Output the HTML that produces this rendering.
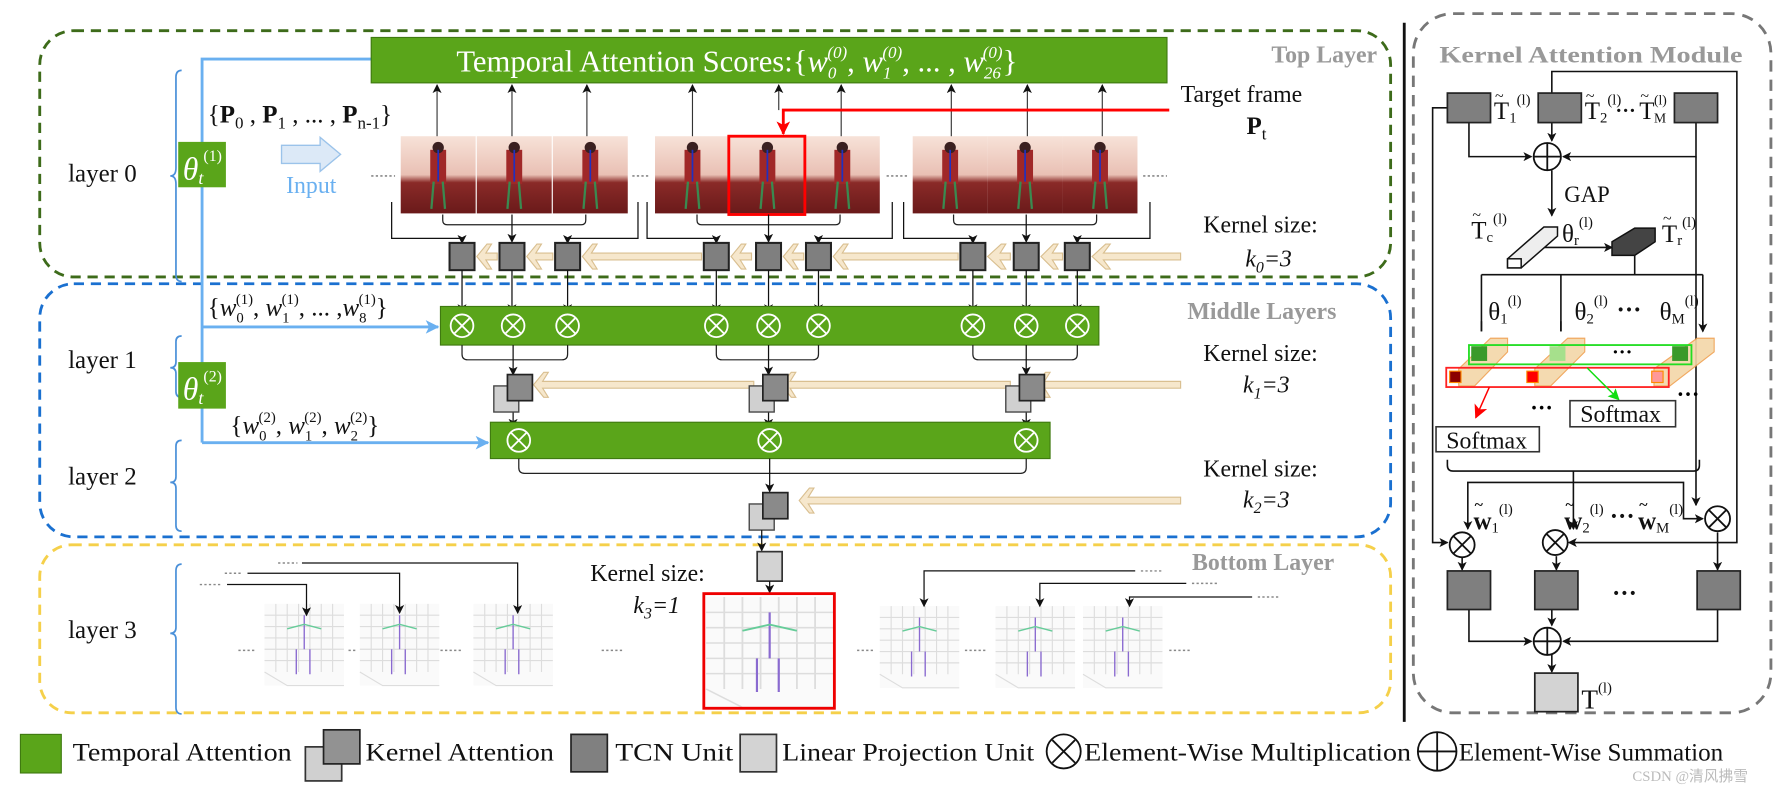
<!DOCTYPE html>
<html><head><meta charset="utf-8"><style>
html,body{margin:0;padding:0;background:#fff;width:1780px;height:790px;overflow:hidden}
svg{display:block}
text{font-family:"Liberation Serif",serif}
</style></head><body>
<svg width="1780" height="790" viewBox="0 0 1568 696" preserveAspectRatio="none" xmlns="http://www.w3.org/2000/svg">
<defs>
<marker id="ah" markerWidth="8" markerHeight="8" refX="7" refY="4" orient="auto" markerUnits="userSpaceOnUse"><path d="M0,0 L8,4 L0,8 L2,4 z" fill="#111"/></marker>
<marker id="ahb" markerWidth="12" markerHeight="12" refX="11" refY="6" orient="auto" markerUnits="userSpaceOnUse"><path d="M0,0 L12,6 L0,12 L3,6 z" fill="#6ab0f0"/></marker>
<marker id="ahr" markerWidth="12" markerHeight="12" refX="11" refY="6" orient="auto" markerUnits="userSpaceOnUse"><path d="M0,0 L12,6 L0,12 L3,6 z" fill="#f00"/></marker>
<marker id="ahg" markerWidth="10" markerHeight="10" refX="9" refY="5" orient="auto" markerUnits="userSpaceOnUse"><path d="M0,0 L10,5 L0,10 L2,5 z" fill="#1d1"/></marker>
<linearGradient id="fg" x1="0" y1="0" x2="0" y2="1">
<stop offset="0" stop-color="#f7e2d8"/><stop offset="0.5" stop-color="#e9c0b4"/><stop offset="0.6" stop-color="#8a2a28"/><stop offset="1" stop-color="#6a1a1a"/></linearGradient>
<g id="frame"><rect width="66" height="68" fill="url(#fg)"/><rect x="26" y="12" width="14" height="30" fill="#a02828"/><circle cx="33" cy="10" r="5" fill="#3a2020"/><path d="M29,40 L27,64 M37,40 L39,64" stroke="#3a8a50" stroke-width="2"/><path d="M33,12 V40" stroke="#2030c0" stroke-width="1.5"/></g>
<g id="plot"><rect width="70" height="72" fill="#fafafa"/><path d="M0,10H70M0,20H70M0,30H70M0,40H70M0,50H70M10,0V60M20,0V60M30,0V60M40,0V60M50,0V60M60,0V60M0,60L20,72H70" stroke="#ddd" stroke-width="1" fill="none"/><path d="M35,10V40M28,40V62M40,40V62" stroke="#8a6ad0" stroke-width="1.2"/><path d="M20,22L35,18L50,22" stroke="#6c9" stroke-width="1.2" fill="none"/></g>
<g id="tcn"><rect width="22" height="24" fill="#7f7f7f" stroke="#222" stroke-width="1.8"/></g>
<g id="ka"><rect x="-12" y="10" width="22" height="23" fill="#d0d0d0" stroke="#444" stroke-width="1.2"/><rect width="22" height="23" fill="#8a8a8a" stroke="#222" stroke-width="1.5"/></g>
<g id="mulw"><circle r="10" fill="none" stroke="#fff" stroke-width="1.6"/><path d="M-7,-7L7,7M7,-7L-7,7" stroke="#fff" stroke-width="1.6"/></g>
<g id="mulk"><circle r="11" fill="#fff" stroke="#111" stroke-width="1.6"/><path d="M-8,-8L8,8M8,-8L-8,8" stroke="#111" stroke-width="1.6"/></g>
<g id="sumk"><circle r="12" fill="#fff" stroke="#111" stroke-width="1.6"/><path d="M-12,0H12M0,-12V12" stroke="#111" stroke-width="1.6"/></g>
</defs>

<rect x="35" y="27" width="1190" height="217" rx="30" fill="none" stroke="#3d6b1a" stroke-width="2.5" stroke-dasharray="9,6"/>
<rect x="35" y="250" width="1190" height="223" rx="30" fill="none" stroke="#1a70d0" stroke-width="2.5" stroke-dasharray="9,6"/>
<rect x="35" y="480" width="1190" height="148" rx="28" fill="none" stroke="#f5d04a" stroke-width="2.5" stroke-dasharray="9,6"/>
<line x1="1237" y1="20" x2="1237" y2="636" stroke="#111" stroke-width="2.5"/>
<rect x="1245" y="12" width="315" height="616" rx="35" fill="none" stroke="#777" stroke-width="2.5" stroke-dasharray="10,7"/>

<text x="1120" y="55" font-size="21" font-weight="bold" fill="#999">Top Layer</text>
<text x="1046" y="281" font-size="21" font-weight="bold" fill="#999">Middle Layers</text>
<text x="1050" y="502" font-size="21" font-weight="bold" fill="#999">Bottom Layer</text>

<g font-size="22" fill="#111">
<text x="60" y="160">layer 0</text><text x="60" y="324">layer 1</text><text x="60" y="427">layer 2</text><text x="60" y="562">layer 3</text></g>
<g fill="none" stroke="#4a90d9" stroke-width="1.5">
<path d="M160,62 q-5,0 -5,6 v80 q0,7 -5,7 q5,0 5,7 v80 q0,6 5,6"/>
<path d="M160,296 q-5,0 -5,5 v18 q0,5 -5,5 q5,0 5,5 v16 q0,5 5,5"/>
<path d="M160,388 q-5,0 -5,5 v27 q0,5 -5,5 q5,0 5,5 v33 q0,5 5,5"/>
<path d="M160,497 q-5,0 -5,6 v50 q0,5 -5,5 q5,0 5,5 v60 q0,6 5,6"/>
</g>

<path d="M178,390 V52 H327" fill="none" stroke="#6ab0f0" stroke-width="2.5"/>
<line x1="178" y1="288" x2="386" y2="288" stroke="#6ab0f0" stroke-width="2.5" marker-end="url(#ahb)"/>
<line x1="178" y1="390" x2="430" y2="390" stroke="#6ab0f0" stroke-width="2.5" marker-end="url(#ahb)"/>
<rect x="157" y="125" width="42" height="40" fill="#5aa51a"/>
<text x="161" y="158" font-size="28" font-style="italic" fill="#fff">θ<tspan font-size="16" dy="4">t</tspan><tspan font-size="14" dy="-20" font-style="normal">(1)</tspan></text>
<rect x="157" y="319" width="42" height="41" fill="#5aa51a"/>
<text x="161" y="352" font-size="28" font-style="italic" fill="#fff">θ<tspan font-size="16" dy="4">t</tspan><tspan font-size="14" dy="-20" font-style="normal">(2)</tspan></text>

<text x="183" y="108" font-size="22" fill="#111">{<tspan font-weight="bold">P</tspan><tspan font-size="15" dy="5">0</tspan><tspan dy="-5"> , </tspan><tspan font-weight="bold">P</tspan><tspan font-size="15" dy="5">1</tspan><tspan dy="-5"> , ... , </tspan><tspan font-weight="bold">P</tspan><tspan font-size="15" dy="5">n-1</tspan><tspan dy="-5">}</tspan></text>
<path d="M248,128 H282 V121 L300,136 L282,151 V144 H248 Z" fill="#dce9f7" stroke="#9bc3ea" stroke-width="1.2"/>
<text x="252" y="170" font-size="21" fill="#6ab0f0">Input</text>

<text x="183" y="278" font-size="22" fill="#111">{<tspan font-style="italic">w</tspan><tspan font-size="13" dy="6">0</tspan><tspan font-size="13" dx="-7" dy="-16">(1)</tspan><tspan dy="10">, </tspan><tspan font-style="italic">w</tspan><tspan font-size="13" dy="6">1</tspan><tspan font-size="13" dx="-7" dy="-16">(1)</tspan><tspan dy="10">, ... ,</tspan><tspan font-style="italic">w</tspan><tspan font-size="13" dy="6">8</tspan><tspan font-size="13" dx="-7" dy="-16">(1)</tspan><tspan dy="10">}</tspan></text>
<text x="203" y="382" font-size="22" fill="#111">{<tspan font-style="italic">w</tspan><tspan font-size="13" dy="6">0</tspan><tspan font-size="13" dx="-7" dy="-16">(2)</tspan><tspan dy="10">, </tspan><tspan font-style="italic">w</tspan><tspan font-size="13" dy="6">1</tspan><tspan font-size="13" dx="-7" dy="-16">(2)</tspan><tspan dy="10">, </tspan><tspan font-style="italic">w</tspan><tspan font-size="13" dy="6">2</tspan><tspan font-size="13" dx="-7" dy="-16">(2)</tspan><tspan dy="10">}</tspan></text>

<rect x="327" y="33" width="701" height="40" fill="#5aa51a" stroke="#3f7a10"/>
<text x="402" y="63" font-size="27" fill="#fff">Temporal Attention Scores:{<tspan font-style="italic">w</tspan><tspan font-size="15" font-style="italic" dy="6">0</tspan><tspan font-size="15" font-style="italic" dx="-8" dy="-18">(0)</tspan><tspan dy="12">, </tspan><tspan font-style="italic">w</tspan><tspan font-size="15" font-style="italic" dy="6">1</tspan><tspan font-size="15" font-style="italic" dx="-8" dy="-18">(0)</tspan><tspan dy="12">, ... , </tspan><tspan font-style="italic">w</tspan><tspan font-size="15" font-style="italic" dy="6">26</tspan><tspan font-size="15" font-style="italic" dx="-16" dy="-18">(0)</tspan><tspan dy="12">}</tspan></text>

<use href="#frame" x="353" y="120"/><use href="#frame" x="420" y="120"/><use href="#frame" x="487" y="120"/>
<use href="#frame" x="577" y="120"/><use href="#frame" x="643" y="120"/><use href="#frame" x="709" y="120"/>
<use href="#frame" x="804" y="120"/><use href="#frame" x="870" y="120"/><use href="#frame" x="936" y="120"/>
<rect x="642" y="120" width="67" height="69" fill="none" stroke="#f00" stroke-width="2.5"/>
<g stroke="#888" stroke-width="1.5" stroke-dasharray="2,2"><line x1="327" y1="155" x2="348" y2="155"/><line x1="557" y1="155" x2="573" y2="155"/><line x1="781" y1="155" x2="800" y2="155"/><line x1="1007" y1="155" x2="1028" y2="155"/></g>
<g stroke="#333" stroke-width="1" marker-end="url(#ah)">
<line x1="385" y1="120" x2="385" y2="75"/><line x1="451" y1="120" x2="451" y2="75"/><line x1="517" y1="120" x2="517" y2="75"/>
<line x1="610" y1="120" x2="610" y2="75"/><line x1="686" y1="97" x2="686" y2="75"/><line x1="741" y1="120" x2="741" y2="75"/>
<line x1="838" y1="120" x2="838" y2="75"/><line x1="905" y1="120" x2="905" y2="75"/><line x1="971" y1="120" x2="971" y2="75"/></g>
<path d="M1030,97 H690 V118" fill="none" stroke="#f00" stroke-width="2.5" marker-end="url(#ahr)"/>
<text x="1040" y="90" font-size="21" fill="#111">Target frame</text>
<text x="1098" y="118" font-size="22" font-weight="bold" fill="#111">P<tspan font-size="15" font-weight="normal" dy="5">t</tspan></text>

<g fill="none" stroke="#222" stroke-width="1.1">
<path d="M390,189 v5 q0,4 4,4 h118 q4,0 4,-4 v-5"/><path d="M614,189 v5 q0,4 4,4 h118 q4,0 4,-4 v-5"/><path d="M840,189 v5 q0,4 4,4 h118 q4,0 4,-4 v-5"/>
</g>
<g fill="none" stroke="#111" stroke-width="1.1" marker-end="url(#ah)">
<path d="M345,178 V210 H407 V214"/><path d="M451,189 V213"/><path d="M562,178 V210 H500 V214"/>
<path d="M570,178 V210 H631 V214"/><path d="M677,189 V213"/><path d="M786,178 V210 H721 V214"/>
<path d="M796,178 V210 H857 V214"/><path d="M904,189 V213"/><path d="M1013,178 V210 H949 V214"/>
</g>

<g fill="#f6e7cc" stroke="#d9bf90" stroke-width="1">
<path d="M1040,223 H972 L978,215 H974 L962,226 L974,237 H978 L972,229 H1040 Z"/>
<path d="M936,223 H927 L932,215 H928 L917,226 L928,237 H932 L927,229 H936 Z"/>
<path d="M890,223 H881 L886,215 H882 L870,226 L882,237 H886 L881,229 H890 Z"/>
<path d="M844,223 H742 L747,215 H743 L734,226 L743,237 H747 L742,229 H844 Z"/>
<path d="M708,223 H698 L703,215 H699 L690,226 L699,237 H703 L698,229 H708 Z"/>
<path d="M662,223 H652 L657,215 H653 L644,226 L653,237 H657 L652,229 H662 Z"/>
<path d="M618,223 H521 L526,215 H522 L513,226 L522,237 H526 L521,229 H618 Z"/>
<path d="M487,223 H472 L477,215 H473 L464,226 L473,237 H477 L472,229 H487 Z"/>
<path d="M438,223 H428 L433,215 H429 L420,226 L429,237 H433 L428,229 H438 Z"/>
<path d="M1040,336 H920 L925,328 H921 L912,339 L921,350 H925 L920,342 H1040 Z"/>
<path d="M890,336 H696 L701,328 H697 L688,339 L697,350 H701 L696,342 H890 Z"/>
<path d="M664,336 H478 L483,328 H479 L470,339 L479,350 H483 L478,342 H664 Z"/>
<path d="M1040,438 H712 L717,430 H713 L704,441 L713,452 H717 L712,444 H1040 Z"/>
</g>
<use href="#tcn" x="396" y="214"/><use href="#tcn" x="440" y="214"/><use href="#tcn" x="489" y="214"/>
<use href="#tcn" x="620" y="214"/><use href="#tcn" x="666" y="214"/><use href="#tcn" x="710" y="214"/>
<use href="#tcn" x="846" y="214"/><use href="#tcn" x="893" y="214"/><use href="#tcn" x="938" y="214"/>
<text x="1060" y="205" font-size="21" fill="#111">Kernel  size:</text>
<text x="1097" y="235" font-size="21" font-style="italic" fill="#111">k<tspan font-size="14" dy="5">0</tspan><tspan dy="-5">=3</tspan></text>

<g stroke="#111" stroke-width="1.1" marker-end="url(#ah)">
<line x1="407" y1="238" x2="407" y2="275"/><line x1="451" y1="238" x2="451" y2="275"/><line x1="500" y1="238" x2="500" y2="275"/>
<line x1="631" y1="238" x2="631" y2="275"/><line x1="677" y1="238" x2="677" y2="275"/><line x1="721" y1="238" x2="721" y2="275"/>
<line x1="857" y1="238" x2="857" y2="275"/><line x1="904" y1="238" x2="904" y2="275"/><line x1="949" y1="238" x2="949" y2="275"/></g>
<rect x="388" y="270" width="580" height="34" fill="#5aa51a" stroke="#3f7a10"/>
<use href="#mulw" x="407" y="287"/><use href="#mulw" x="452" y="287"/><use href="#mulw" x="500" y="287"/>
<use href="#mulw" x="631" y="287"/><use href="#mulw" x="677" y="287"/><use href="#mulw" x="721" y="287"/>
<use href="#mulw" x="857" y="287"/><use href="#mulw" x="904" y="287"/><use href="#mulw" x="949" y="287"/>
<g fill="none" stroke="#222" stroke-width="1.1">
<path d="M407,304 v8 q0,5 5,5 h83 q5,0 5,-5 v-8"/><path d="M631,304 v8 q0,5 5,5 h80 q5,0 5,-5 v-8"/><path d="M857,304 v8 q0,5 5,5 h82 q5,0 5,-5 v-8"/>
</g>
<g stroke="#111" stroke-width="1.1" marker-end="url(#ah)">
<line x1="452" y1="304" x2="452" y2="330"/><line x1="677" y1="304" x2="677" y2="330"/><line x1="904" y1="304" x2="904" y2="330"/>
<line x1="452" y1="362" x2="452" y2="376"/><line x1="677" y1="362" x2="677" y2="376"/><line x1="904" y1="362" x2="904" y2="376"/></g>
<use href="#ka" x="447" y="330"/><use href="#ka" x="672" y="330"/><use href="#ka" x="898" y="330"/>
<text x="1060" y="318" font-size="21" fill="#111">Kernel size:</text>
<text x="1095" y="346" font-size="21" font-style="italic" fill="#111">k<tspan font-size="14" dy="5">1</tspan><tspan dy="-5">=3</tspan></text>

<rect x="432" y="372" width="493" height="32" fill="#5aa51a" stroke="#3f7a10"/>
<use href="#mulw" x="457" y="388"/><use href="#mulw" x="678" y="388"/><use href="#mulw" x="904" y="388"/>
<path d="M457,404 v8 q0,5 5,5 h437 q5,0 5,-5 v-8" fill="none" stroke="#222" stroke-width="1.1"/>
<line x1="678" y1="404" x2="678" y2="433" stroke="#111" stroke-width="1.1" marker-end="url(#ah)"/>
<use href="#ka" x="672" y="434"/>
<text x="1060" y="420" font-size="21" fill="#111">Kernel size:</text>
<text x="1095" y="447" font-size="21" font-style="italic" fill="#111">k<tspan font-size="14" dy="5">2</tspan><tspan dy="-5">=3</tspan></text>
<line x1="671" y1="467" x2="671" y2="485" stroke="#111" stroke-width="1.1" marker-end="url(#ah)"/>

<rect x="667" y="486" width="22" height="26" fill="#d3d3d3" stroke="#333" stroke-width="1.5"/>
<line x1="678" y1="512" x2="678" y2="522" stroke="#111" stroke-width="1.1" marker-end="url(#ah)"/>
<text x="520" y="512" font-size="21" fill="#111">Kernel size:</text>
<text x="558" y="540" font-size="21" font-style="italic" fill="#111">k<tspan font-size="14" dy="5">3</tspan><tspan dy="-5">=1</tspan></text>
<use href="#plot" x="233" y="532"/><use href="#plot" x="317" y="532"/><use href="#plot" x="417" y="532"/>
<use href="#plot" x="775" y="534"/><use href="#plot" x="877" y="534"/><use href="#plot" x="954" y="534"/>
<g transform="translate(622,526) scale(1.6,1.35)"><use href="#plot"/></g>
<rect x="620" y="523" width="115" height="101" fill="none" stroke="#e00" stroke-width="2.5"/>
<g stroke="#888" stroke-width="1.3" stroke-dasharray="2,2">
<line x1="210" y1="573" x2="226" y2="573"/><line x1="307" y1="573" x2="315" y2="573"/><line x1="388" y1="573" x2="408" y2="573"/>
<line x1="530" y1="573" x2="550" y2="573"/><line x1="755" y1="573" x2="770" y2="573"/><line x1="850" y1="573" x2="870" y2="573"/>
<line x1="1030" y1="573" x2="1048" y2="573"/>
<line x1="176" y1="515" x2="196" y2="515"/><line x1="198" y1="505" x2="214" y2="505"/><line x1="245" y1="496" x2="262" y2="496"/>
<line x1="1005" y1="503" x2="1025" y2="503"/><line x1="1050" y1="514" x2="1072" y2="514"/><line x1="1108" y1="526" x2="1128" y2="526"/>
</g>
<g fill="none" stroke="#111" stroke-width="1.1" marker-end="url(#ah)">
<path d="M200,515 H270 V542"/><path d="M218,505 H352 V540"/><path d="M266,496 H456 V540"/>
<path d="M1000,503 H814 V534"/><path d="M1045,514 H916 V534"/><path d="M1103,526 H995 V534"/>
</g>

<rect x="18" y="647" width="36" height="34" fill="#5aa51a" stroke="#3f7a10"/>
<text x="64" y="670" font-size="22" fill="#111" textLength="193" lengthAdjust="spacingAndGlyphs">Temporal Attention</text>
<rect x="269" y="658" width="32" height="30" fill="#d0d0d0" stroke="#333" stroke-width="1.5"/>
<rect x="285" y="643" width="32" height="30" fill="#929292" stroke="#222" stroke-width="1.5"/>
<text x="322" y="670" font-size="22" fill="#111" textLength="166" lengthAdjust="spacingAndGlyphs">Kernel Attention</text>
<rect x="503" y="647" width="32" height="33" fill="#808080" stroke="#222" stroke-width="1.5"/>
<text x="542" y="670" font-size="22" fill="#111" textLength="104" lengthAdjust="spacingAndGlyphs">TCN Unit</text>
<rect x="652" y="647" width="32" height="33" fill="#d3d3d3" stroke="#333" stroke-width="1.5"/>
<text x="689" y="670" font-size="22" fill="#111" textLength="222" lengthAdjust="spacingAndGlyphs">Linear Projection Unit</text>
<g transform="translate(937,662)"><circle r="15" fill="none" stroke="#111" stroke-width="1.6"/><path d="M-10,-10L10,10M10,-10L-10,10" stroke="#111" stroke-width="1.6"/></g>
<text x="955" y="670" font-size="22" fill="#111" textLength="288" lengthAdjust="spacingAndGlyphs">Element-Wise Multiplication</text>
<g transform="translate(1266,662)"><circle r="17" fill="none" stroke="#111" stroke-width="1.6"/><path d="M-17,0H17M0,-17V17" stroke="#111" stroke-width="1.6"/></g>
<text x="1285" y="670" font-size="22" fill="#111" textLength="233" lengthAdjust="spacingAndGlyphs">Element-Wise Summation</text>
<text x="1438" y="688" font-size="13" fill="#bbb" font-family="Liberation Sans, Noto Sans CJK SC, sans-serif">CSDN @清风拂雪</text>

<!-- kernel attention module -->
<text x="1268" y="55" font-size="20" font-weight="bold" fill="#999" textLength="267" lengthAdjust="spacingAndGlyphs">Kernel Attention Module</text>
<g fill="none" stroke="#111" stroke-width="1.4">
<path d="M1278,95 H1262 V478 H1275" marker-end="url(#ah)"/>
<path d="M1367,82 V63 H1530 V478 H1382" marker-end="url(#ah)"/>
<path d="M1294,108 V138 H1349" marker-end="url(#ah)"/>
<path d="M1494,108 V138 H1377" marker-end="url(#ah)"/>
<path d="M1494,138 V445" marker-end="url(#ah)"/>
<path d="M1367,108 V124" marker-end="url(#ah)"/>
<path d="M1367,150 V190" marker-end="url(#ah)"/>
<path d="M1360,218 H1420" marker-end="url(#ah)"/>
<path d="M1440,225 V242 M1305,242 H1500 M1305,242 V292 M1375,242 V292 M1500,242 V292"/>
<path d="M1305,283V292 M1375,283V292 M1500,283V292" marker-end="url(#ah)"/>
<path d="M1275,405 v5 q0,5 5,5 h212 q5,0 5,-5 v-5"/>
<path d="M1386,415 V466" marker-end="url(#ah)"/>
<path d="M1386,425 H1293 V466" marker-end="url(#ah)"/>
<path d="M1386,425 H1483 V457 H1500" marker-end="url(#ah)"/>
<path d="M1288,490 V502" marker-end="url(#ah)"/><path d="M1371,490 V502" marker-end="url(#ah)"/><path d="M1513,469 V502" marker-end="url(#ah)"/>
<path d="M1294,537 V565 H1349" marker-end="url(#ah)"/><path d="M1513,537 V565 H1377" marker-end="url(#ah)"/>
<path d="M1367,537 V551" marker-end="url(#ah)"/><path d="M1367,577 V592" marker-end="url(#ah)"/>
</g>
<rect x="1275" y="82" width="38" height="26" fill="#7f7f7f" stroke="#222" stroke-width="1.5"/>
<rect x="1355" y="82" width="38" height="26" fill="#7f7f7f" stroke="#222" stroke-width="1.5"/>
<rect x="1475" y="82" width="38" height="26" fill="#7f7f7f" stroke="#222" stroke-width="1.5"/>
<g font-size="22" fill="#111">
<text x="1316" y="105">T<tspan font-size="13" dy="3">1</tspan><tspan font-size="13" dy="-16">(l)</tspan></text>
<text x="1396" y="105">T<tspan font-size="13" dy="3">2</tspan><tspan font-size="13" dy="-16">(l)</tspan></text>
<text x="1423" y="103" font-weight="bold" font-size="18">···</text>
<text x="1444" y="105">T</text>
<text x="1457" y="108" font-size="12">M</text>
<text x="1457" y="92" font-size="12">(l)</text>
<text x="1378" y="178" font-size="20">GAP</text>
<text x="1296" y="210">T<tspan font-size="13" dy="3">c</tspan><tspan font-size="13" dy="-16">(l)</tspan></text>
<text x="1376" y="213">θ<tspan font-size="13" dy="3">r</tspan><tspan font-size="13" dy="-16">(l)</tspan></text>
<text x="1464" y="213">T<tspan font-size="13" dy="3">r</tspan><tspan font-size="13" dy="-16">(l)</tspan></text>
<text x="1311" y="282">θ<tspan font-size="13" dy="3">1</tspan><tspan font-size="13" dy="-16">(l)</tspan></text>
<text x="1387" y="282">θ<tspan font-size="13" dy="3">2</tspan><tspan font-size="13" dy="-16">(l)</tspan></text>
<text x="1424" y="280" font-weight="bold">···</text>
<text x="1462" y="282">θ<tspan font-size="13" dy="3">M</tspan><tspan font-size="13" dy="-16">(l)</tspan></text>
<text x="1298" y="466" font-weight="bold">w<tspan font-size="13" font-weight="normal" dy="3">1</tspan><tspan font-size="13" font-weight="normal" dy="-16">(l)</tspan></text>
<text x="1378" y="466" font-weight="bold">w<tspan font-size="13" font-weight="normal" dy="3">2</tspan><tspan font-size="13" font-weight="normal" dy="-16">(l)</tspan></text>
<text x="1418" y="462" font-weight="bold">···</text>
<text x="1443" y="466" font-weight="bold">w<tspan font-size="13" font-weight="normal" dy="3">M</tspan><tspan font-size="13" font-weight="normal" dy="-16">(l)</tspan></text>
<text x="1420" y="530" font-weight="bold">···</text>
<text x="1393" y="624" font-size="24">T<tspan font-size="13" dy="-14">(l)</tspan></text>
</g>
<g font-size="14" fill="#111">
<text x="1317" y="89">~</text><text x="1397" y="89">~</text><text x="1445" y="89">~</text><text x="1297" y="194">~</text><text x="1465" y="197">~</text>
<text x="1299" y="449" font-weight="bold">~</text><text x="1379" y="449" font-weight="bold">~</text><text x="1444" y="449" font-weight="bold">~</text>
</g>
<use href="#sumk" x="1363" y="138"/>
<path d="M1328,228 L1360,200 H1372 V208 L1340,236 H1328 Z" fill="#eee" stroke="#111" stroke-width="1.3"/>
<rect x="1328" y="228" width="12" height="8" fill="#fff" stroke="#111" stroke-width="1.3"/>
<path d="M1420,213 L1440,201 H1458 V213 L1440,225 H1420 Z" fill="#444" stroke="#111" stroke-width="1.3"/>
<g fill="#f3d7a8" stroke="#f0a050" stroke-width="1" opacity="0.9">
<path d="M1285,325 L1313,298 H1328 V310 L1299,340 H1285 Z"/>
<path d="M1352,325 L1381,298 H1396 V310 L1366,340 H1352 Z"/>
<path d="M1457,325 L1495,298 H1510 V310 L1471,340 H1457 Z"/>
</g>
<rect x="1296" y="305" width="14" height="13" fill="#3a9a2a"/><rect x="1365" y="305" width="14" height="13" fill="#a6e08c"/><rect x="1473" y="305" width="14" height="13" fill="#3a9a2a"/>
<rect x="1294" y="304" width="196" height="17" fill="none" stroke="#2d2" stroke-width="1.6"/>
<text x="1420" y="316" font-size="18" font-weight="bold">···</text>
<rect x="1277" y="327" width="10" height="10" fill="#8b0000" stroke="#f80"/><rect x="1345" y="327" width="10" height="10" fill="#f00" stroke="#f80"/><rect x="1455" y="327" width="10" height="10" fill="#f99" stroke="#f80"/>
<rect x="1274" y="324" width="196" height="17" fill="none" stroke="#f22" stroke-width="1.6"/>
<line x1="1312" y1="341" x2="1300" y2="368" stroke="#f00" stroke-width="1.3" marker-end="url(#ahr)"/>
<line x1="1398" y1="324" x2="1426" y2="352" stroke="#1d1" stroke-width="1.3" marker-end="url(#ahg)"/>
<text x="1348" y="366" font-size="20" font-weight="bold">···</text>
<text x="1477" y="354" font-size="20" font-weight="bold">···</text>
<rect x="1265" y="376" width="91" height="22" fill="#fff" stroke="#333" stroke-width="1.4"/>
<text x="1274" y="395" font-size="21" fill="#111">Softmax</text>
<rect x="1383" y="353" width="93" height="23" fill="#fff" stroke="#333" stroke-width="1.4"/>
<text x="1392" y="372" font-size="21" fill="#111">Softmax</text>
<use href="#mulk" x="1288" y="480"/><use href="#mulk" x="1370" y="478"/><use href="#mulk" x="1513" y="457"/>
<rect x="1275" y="503" width="38" height="34" fill="#7f7f7f" stroke="#222" stroke-width="1.5"/>
<rect x="1352" y="503" width="38" height="34" fill="#7f7f7f" stroke="#222" stroke-width="1.5"/>
<rect x="1495" y="503" width="38" height="34" fill="#7f7f7f" stroke="#222" stroke-width="1.5"/>
<use href="#sumk" x="1363" y="565"/>
<rect x="1352" y="593" width="38" height="34" fill="#d3d3d3" stroke="#222" stroke-width="1.5"/>
</svg>
</body></html>
